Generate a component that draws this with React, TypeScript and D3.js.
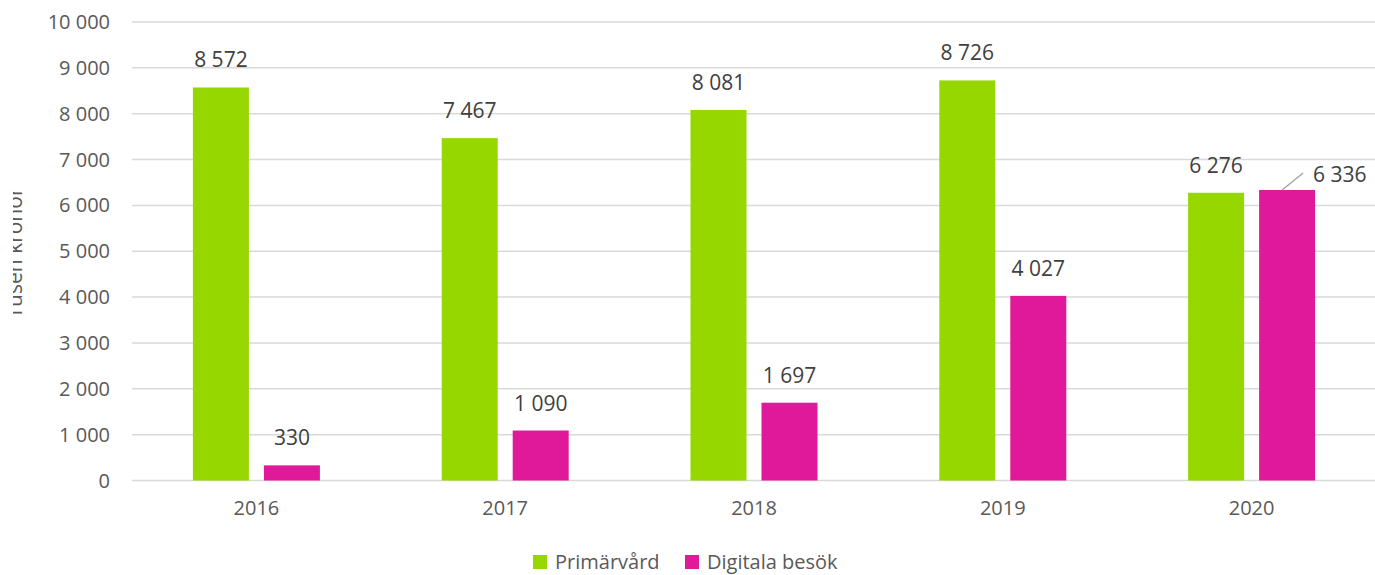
import React from "react";
import * as d3 from "d3";

const years = ["2016", "2017", "2018", "2019", "2020"];
const primarvard = [8572, 7467, 8081, 8726, 6276];
const digitala = [330, 1090, 1697, 4027, 6336];
const seriesNames = ["Primärvård", "Digitala besök"];
const seriesColors = ["#97D700", "#E0189A"];
const yTicks = [0, 1000, 2000, 3000, 4000, 5000, 6000, 7000, 8000, 9000, 10000];
const yTitle = "Tusen kronor";

const W = 1375;
const H = 575;
const FONT = "'Open Sans', sans-serif";

const fmt = (v: number) => {
  const s = String(Math.round(v));
  return s.replace(/\B(?=(\d{3})+(?!\d))/g, " ");
};

export default function App() {
  const x = d3.scaleBand<string>().domain(years).range([132, 1376]).padding(0);
  const y = d3.scaleLinear().domain([0, 10000]).range([480.5, 22]);
  const bw = x.bandwidth();
  const barW = 56;
  const gap = 15;
  const series = [primarvard, digitala];

  return (
    <svg width={W} height={H} style={{ display: "block", position: "absolute", left: 0, top: 0 }}>
      <defs>
        <clipPath id="ytitleclip">
          <rect x={13} y={0} width={40} height={H} />
        </clipPath>
      </defs>
      <rect x={0} y={0} width={W} height={H} fill="#fff" />
      {yTicks.map((t) => (
        <g key={t}>
          <line x1={132} x2={1375} y1={y(t)} y2={y(t)} stroke="#d9d9d9" strokeWidth={1.5} />
          <text x={110} y={y(t) + 7} textAnchor="end" fontFamily={FONT} fontSize={20} fill="#595959">
            {fmt(t)}
          </text>
        </g>
      ))}
      <g clipPath="url(#ytitleclip)">
        <text
          transform={`translate(22, 253) rotate(-90)`}
          textAnchor="middle"
          fontFamily={FONT}
          fontSize={21}
          fill="#595959"
        >
          {yTitle}
        </text>
      </g>
      {years.map((yr, i) => {
        const cx = (x(yr) as number) + bw / 2;
        return (
          <g key={yr}>
            {series.map((s, j) => {
              const bx = j === 0 ? cx - gap / 2 - barW : cx + gap / 2;
              const top = y(s[i]);
              const isOffset = j === 1 && i === years.length - 1;
              return (
                <g key={j}>
                  <rect x={bx} y={top} width={barW} height={y(0) - top} fill={seriesColors[j]} />
                  {isOffset ? (
                    <g>
                      <line x1={bx + 23} y1={top} x2={bx + 44} y2={top - 17} stroke="#a6a6a6" strokeWidth={1.5} />
                      <text x={bx + 54} y={top - 8} fontFamily={FONT} fontSize={21} fill="#404040">
                        {fmt(s[i])}
                      </text>
                    </g>
                  ) : (
                    <text x={bx + barW / 2} y={top - 20} textAnchor="middle" fontFamily={FONT} fontSize={21} fill="#404040">
                      {fmt(s[i])}
                    </text>
                  )}
                </g>
              );
            })}
            <text x={cx} y={515} textAnchor="middle" fontFamily={FONT} fontSize={20} fill="#595959">
              {yr}
            </text>
          </g>
        );
      })}
      {seriesNames.map((n, j) => {
        const lx = j === 0 ? 533 : 685;
        return (
          <g key={n}>
            <rect x={lx} y={555} width={14} height={14} fill={seriesColors[j]} />
            <text x={lx + 22} y={569} fontFamily={FONT} fontSize={20} fill="#595959">
              {n}
            </text>
          </g>
        );
      })}
    </svg>
  );
}
